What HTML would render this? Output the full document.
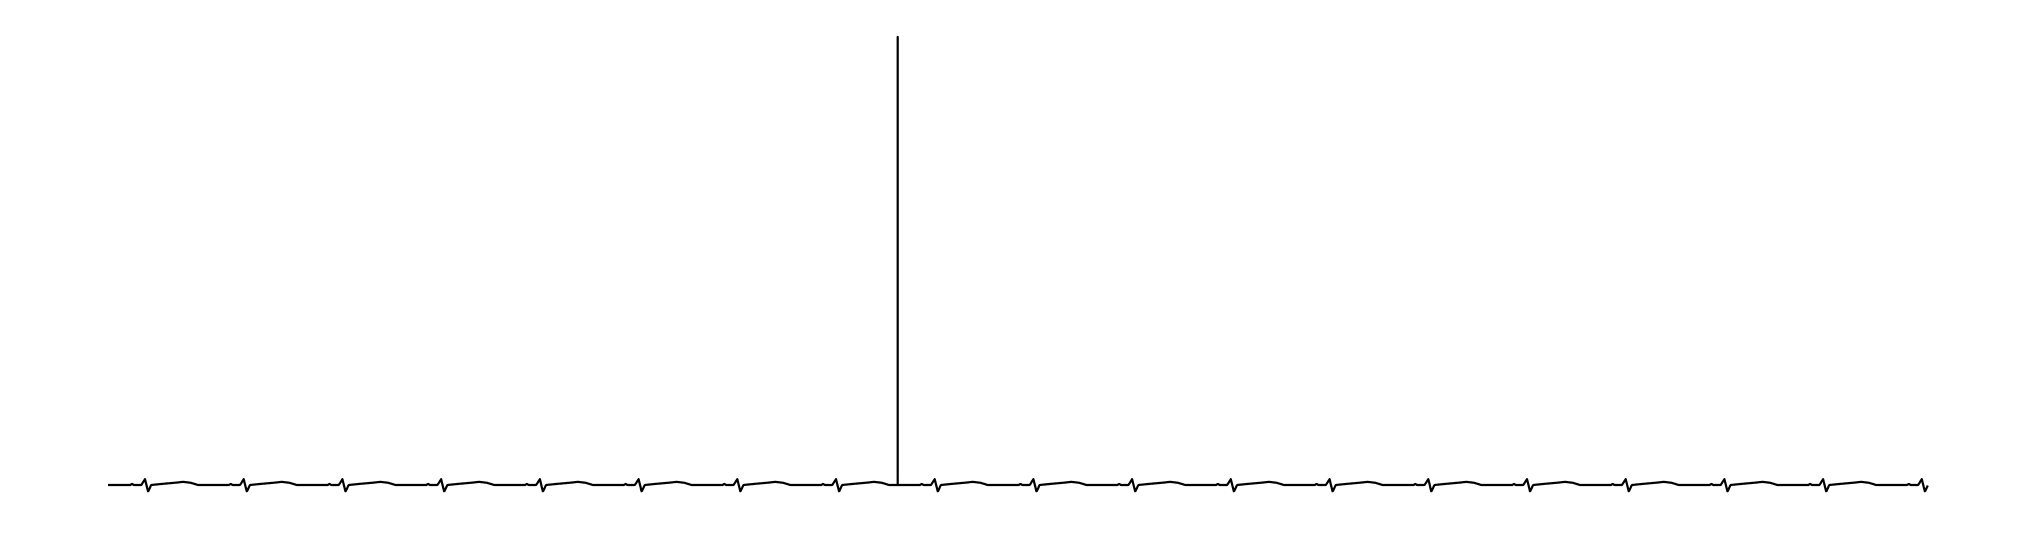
<!DOCTYPE html>
<html><head><meta charset="utf-8"><style>
html,body{margin:0;padding:0;background:#fff;width:2022px;height:538px;overflow:hidden}
svg{display:block}
</style></head><body>
<svg id="chart" width="2022" height="538">
<g id="plot"></g>
</svg>
<script>
// data (seconds, amplitude units)
const beatTimes = [0.3,1.1,1.9,2.7,3.5,4.3,5.1,5.9,6.7,7.5,8.3,9.1,9.9,10.7,11.5,12.3,13.1,13.9,14.7];
const templateT = [-0.30,-0.12,-0.105,-0.09,-0.03,0.0,0.025,0.05,0.12,0.24,0.31,0.37,0.43];
const templateV = [0,0,0.25,0,0,1.3,-1.5,0,0.2,0.5,0.7,0.5,0];
const spikeTime = [6.4];
const spikeValue = [100];
const tStart = 0, tEnd = 14.75;

function xs(t){return 108 + (t - tStart) * (1928 - 108) / (tEnd - tStart);}
function ys(v){return 485 - v * (485 - 37) / 100;}

function signal(t){
  let v = 0;
  for (const b of beatTimes){
    const d = t - b;
    if (d < templateT[0] || d > templateT[templateT.length-1]) continue;
    for (let i=0;i<templateT.length-1;i++){
      if (d>=templateT[i] && d<=templateT[i+1]){
        const f=(d-templateT[i])/(templateT[i+1]-templateT[i]);
        v += templateV[i]+f*(templateV[i+1]-templateV[i]);
        break;
      }
    }
  }
  return v;
}
const g = document.getElementById('plot');
const ns='http://www.w3.org/2000/svg';
let pts=[];
const dt=0.004;
for(let t=tStart;t<=tEnd+1e-9;t+=dt){
  if (Math.abs(t-spikeTime[0])<dt/2){
    pts.push(xs(spikeTime[0]).toFixed(1)+','+ys(0).toFixed(1));
    pts.push(xs(spikeTime[0]).toFixed(1)+','+ys(spikeValue[0]).toFixed(1));
    pts.push(xs(spikeTime[0]).toFixed(1)+','+ys(0).toFixed(1));
  }
  pts.push(xs(t).toFixed(1)+','+ys(signal(t)).toFixed(1));
}
const pl=document.createElementNS(ns,'polyline');
pl.setAttribute('points',pts.join(' '));
pl.setAttribute('fill','none');
pl.setAttribute('stroke','#000');
pl.setAttribute('stroke-width','2.2');
pl.setAttribute('stroke-linejoin','round');


g.appendChild(pl);
</script>
</body></html>
